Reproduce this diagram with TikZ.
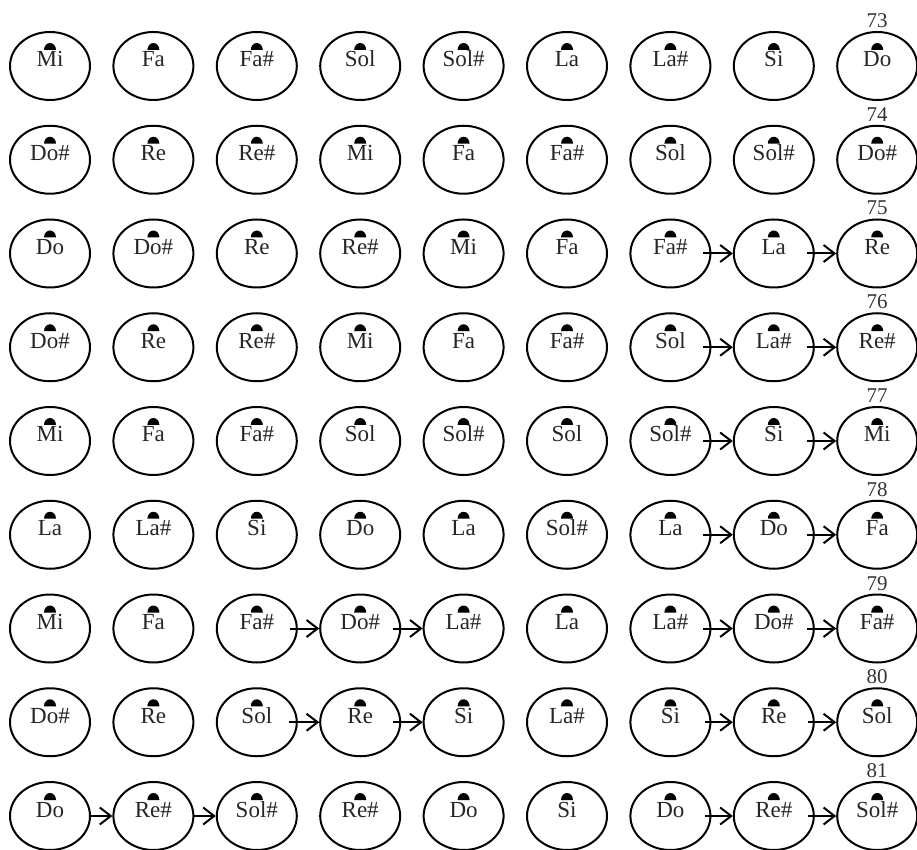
\documentclass[tikz,border=0pt]{standalone}
\usepackage{fontspec}
\setmainfont{Liberation Serif}
\usetikzlibrary{shapes.geometric,arrows.meta}
\tikzset{
  cell/.style={ellipse, draw=black, line width=2pt, minimum width=80pt, minimum height=68pt, inner sep=0pt},
  notelabel/.style={anchor=base, inner sep=0pt, text=black!85, font=\fontsize{23}{27}\selectfont},
  numlabel/.style={anchor=base, inner sep=0pt, text=black!80, font=\fontsize{21}{25}\selectfont},
  arr/.style={line width=2pt, -{Straight Barb[length=11pt,width=17pt,line width=2pt]}},
}
\newcommand\notecell[3]{%
  \pgfmathsetmacro\ncx{50+103.4*(#2-1)}%
  \pgfmathsetmacro\ncy{849-(66+93.75*(#1-1))}%
  \node[cell] (n-#1-#2) at (\ncx pt,\ncy pt) {};
  \node[notelabel] (t-#1-#2) at ([yshift=-1pt]n-#1-#2.center) {#3};
  \fill ([yshift=16pt,xshift=-6pt]n-#1-#2.center) arc[start angle=180,end angle=0,x radius=6pt,y radius=7pt] -- cycle;
}
\begin{document}
\begin{tikzpicture}[x=1pt,y=1pt]
\useasboundingbox (0,0) rectangle (917,849);
\foreach \r/\labs in {
  1/{Mi,Fa,Fa\#,Sol,Sol\#,La,La\#,Si,Do},
  2/{Do\#,Re,Re\#,Mi,Fa,Fa\#,Sol,Sol\#,Do\#},
  3/{Do,Do\#,Re,Re\#,Mi,Fa,Fa\#,La,Re},
  4/{Do\#,Re,Re\#,Mi,Fa,Fa\#,Sol,La\#,Re\#},
  5/{Mi,Fa,Fa\#,Sol,Sol\#,Sol,Sol\#,Si,Mi},
  6/{La,La\#,Si,Do,La,Sol\#,La,Do,Fa},
  7/{Mi,Fa,Fa\#,Do\#,La\#,La,La\#,Do\#,Fa\#},
  8/{Do\#,Re,Sol,Re,Si,La\#,Si,Re,Sol},
  9/{Do,Re\#,Sol\#,Re\#,Do,Si,Do,Re\#,Sol\#}}{
  \foreach \lab [count=\c] in \labs {
    \notecell{\r}{\c}{\lab}
  }
}
% measure numbers above last column
\foreach \r [evaluate=\r as \num using int(72+\r)] in {1,...,9}{
  \node[numlabel] (num-\r) at ([yshift=3.5pt]n-\r-9.north) {\num};
}
% arrows
\foreach \r/\a/\b/\s in {3/7/8/33,3/8/9/33,4/7/8/33,4/8/9/33,5/7/8/33,5/8/9/33,6/7/8/33,6/8/9/33,
  7/3/4/33,7/4/5/33,7/7/8/33,7/8/9/33,8/3/4/32,8/4/5/33,8/7/8/35,8/8/9/34,
  9/1/2/41,9/2/3/41,9/7/8/35,9/8/9/34}{
  \draw[arr] ([xshift=\s pt]n-\r-\a.center) -- (n-\r-\b.west);
}
\end{tikzpicture}
\end{document}
